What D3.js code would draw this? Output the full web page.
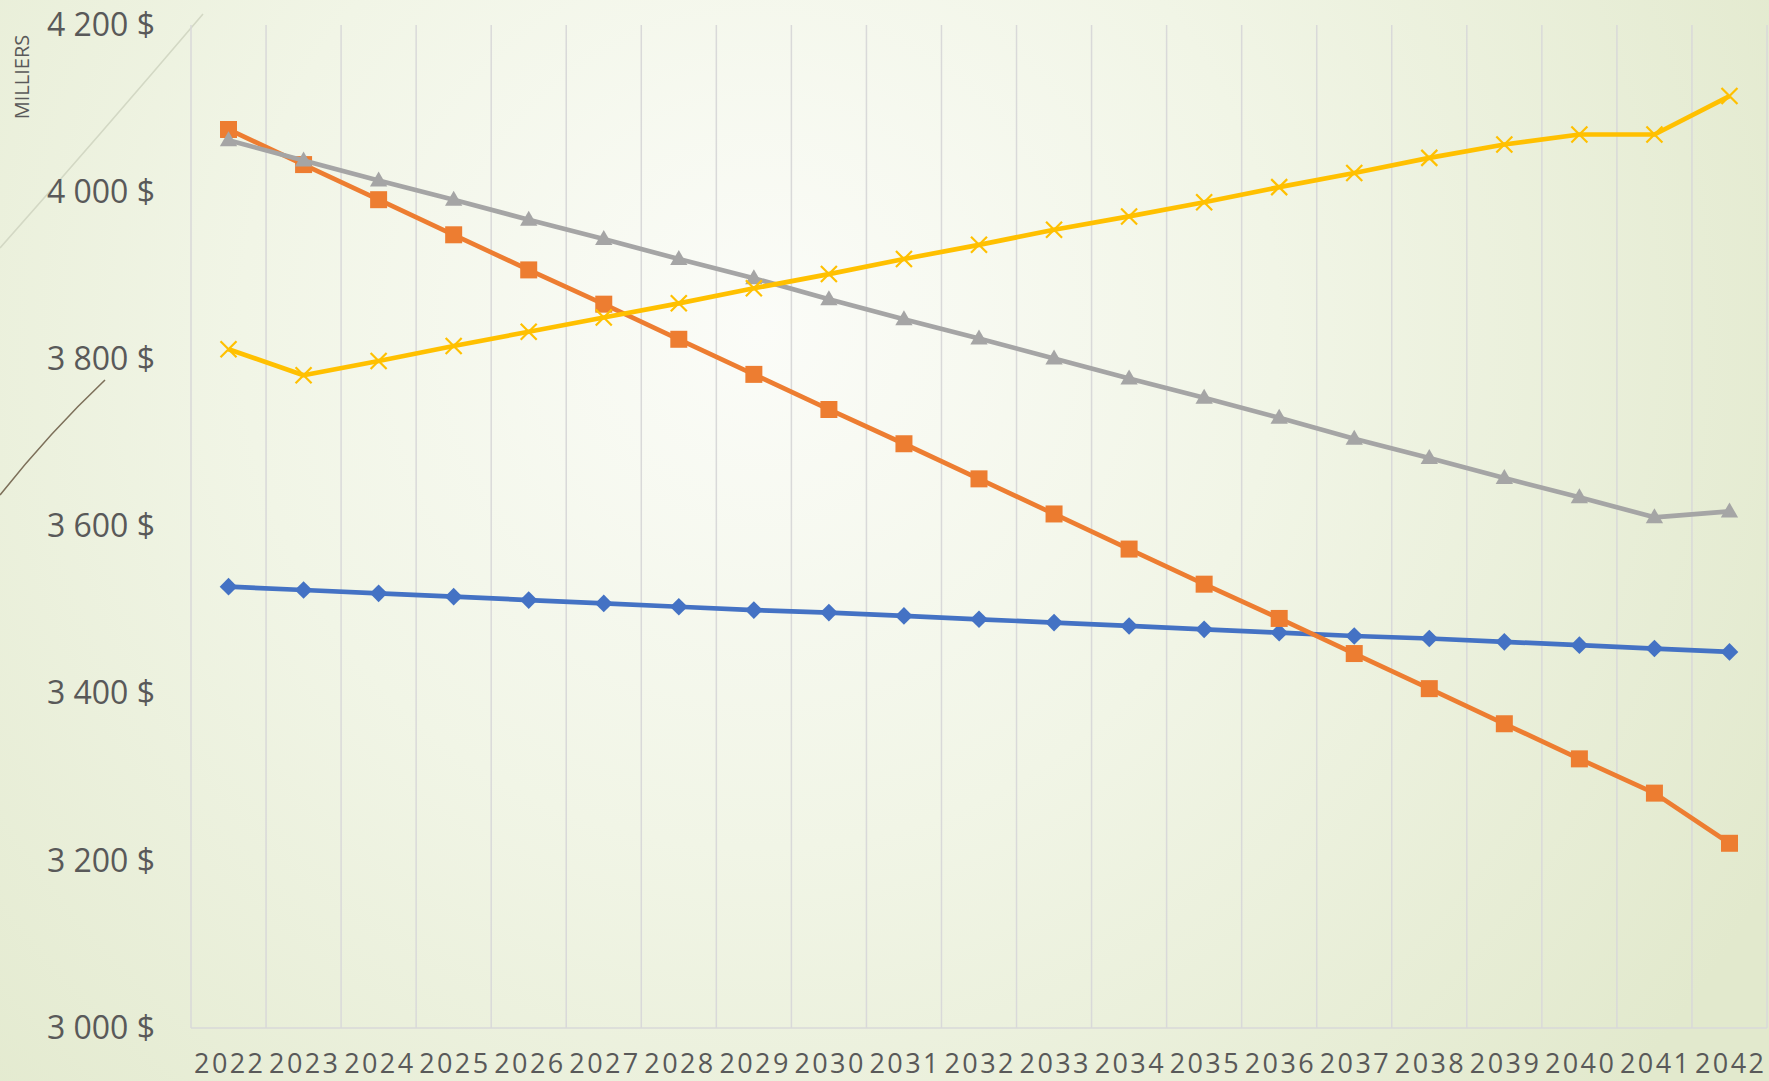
<!DOCTYPE html>
<html lang="fr">
<head>
<meta charset="utf-8">
<title>Projection (milliers $)</title>
<script src="https://cdn.jsdelivr.net/npm/d3@7"></script>
<style>
  html, body { margin: 0; padding: 0; background: #e5ebd4; }
  svg { display: block; }
</style>
</head>
<body>
<svg id="chart" width="1769" height="1081"></svg>
<script>
// Années et séries (en milliers de dollars)
const years = d3.range(2022, 2043).map(String);

const serieBleue = [3528, 3524, 3520, 3516, 3512, 3508, 3504, 3500, 3497, 3493, 3489,
                    3485, 3481, 3477, 3473, 3469, 3466, 3462, 3458, 3454, 3450];
const serieOrange = [4075, 4033, 3991, 3949, 3907, 3866, 3824, 3782, 3740, 3699, 3657,
                     3615, 3573, 3531, 3490, 3448, 3406, 3364, 3322, 3281, 3221];
const serieGrise = [4062, 4038, 4014, 3991, 3967, 3944, 3920, 3897, 3872, 3848, 3825,
                    3801, 3777, 3754, 3730, 3705, 3682, 3658, 3635, 3611, 3618];
const serieJaune = [3812, 3781, 3798, 3816, 3833, 3850, 3867, 3885, 3902, 3920, 3937,
                    3955, 3971, 3988, 4006, 4023, 4041, 4057, 4069, 4069, 4115];

const yTicks = [3000, 3200, 3400, 3600, 3800, 4000, 4200];
const unitLabel = "MILLIERS";

const series = [
  { values: serieBleue,  color: "#4472C4", marker: "diamond" },
  { values: serieOrange, color: "#ED7D31", marker: "square" },
  { values: serieGrise,  color: "#A5A5A5", marker: "triangle" },
  { values: serieJaune,  color: "#FFC000", marker: "cross" }
];

const W = 1769, H = 1081;
const plot = { left: 191, right: 1767, top: 25, bottom: 1028 };

const svg = d3.select("#chart");

// Fond : dégradé clair vers vert pâle
const defs = svg.append("defs");
const bg = defs.append("radialGradient")
  .attr("id", "bg").attr("gradientUnits", "userSpaceOnUse")
  .attr("cx", 760).attr("cy", 330).attr("r", 1150);
bg.append("stop").attr("offset", "0%").attr("stop-color", "#fbfcf8");
bg.append("stop").attr("offset", "45%").attr("stop-color", "#f1f5e6");
bg.append("stop").attr("offset", "100%").attr("stop-color", "#e2e9cd");
svg.append("rect").attr("width", W).attr("height", H).attr("fill", "url(#bg)");

// Traits décoratifs du thème, à gauche
svg.append("path")
  .attr("d", "M0,248 Q100,135 203,14")
  .attr("fill", "none").attr("stroke", "#d3d8c4").attr("stroke-width", 1.6);
svg.append("path")
  .attr("d", "M0,495 Q50,432 105,380")
  .attr("fill", "none").attr("stroke", "#7d705a").attr("stroke-width", 1.6);

// Échelles
const x = d3.scaleBand().domain(years).range([plot.left, plot.right]).padding(0);
const y = d3.scaleLinear().domain([3000, 4200]).range([plot.bottom, plot.top]);

// Quadrillage vertical (limites des catégories)
const bounds = years.map(d => x(d)).concat([plot.right]);
svg.append("g").selectAll("line").data(bounds).join("line")
  .attr("x1", d => d).attr("x2", d => d)
  .attr("y1", plot.top).attr("y2", plot.bottom)
  .attr("stroke", "#d9d9d9").attr("stroke-width", 1.5);

// Ligne d'axe horizontal
svg.append("line")
  .attr("x1", plot.left).attr("x2", plot.right)
  .attr("y1", plot.bottom).attr("y2", plot.bottom)
  .attr("stroke", "#d9d9d9").attr("stroke-width", 1.5);

// Axe des ordonnées
const fr = d3.formatLocale({ decimal: ",", thousands: " ", grouping: [3], currency: ["", " $"] });
const fmt = fr.format("$,.0f");
const yAxis = svg.append("g")
  .attr("transform", `translate(${plot.left},0)`)
  .call(d3.axisLeft(y).tickValues(yTicks).tickFormat(fmt).tickSize(0).tickPadding(36));
yAxis.select(".domain").remove();
yAxis.selectAll("text")
  .attr("font-family", "'Open Sans', 'Noto Sans', sans-serif")
  .attr("font-size", 32).attr("fill", "#595959");

// Axe des abscisses
const xAxis = svg.append("g")
  .attr("transform", `translate(0,${plot.bottom})`)
  .call(d3.axisBottom(x).tickSize(0).tickPadding(26));
xAxis.select(".domain").remove();
xAxis.selectAll("text")
  .attr("font-family", "'Open Sans', 'Noto Sans', sans-serif")
  .attr("font-size", 27).attr("fill", "#595959")
  .attr("letter-spacing", "2.4px")
  .attr("dx", "1.2px");

// Unité
svg.append("text")
  .attr("transform", "translate(29,77) rotate(-90)")
  .attr("text-anchor", "middle")
  .attr("font-family", "'Open Sans', 'Noto Sans', sans-serif")
  .attr("font-size", 20).attr("fill", "#595959")
  .text(unitLabel);

// Séries
const cx = i => x(years[i]) + x.bandwidth() / 2;
const line = d3.line().x((d, i) => cx(i)).y(d => y(d));

const symSquare = d3.symbol().type(d3.symbolSquare).size(17 * 17)();
const symDiamond = d3.symbol().type(d3.symbolSquare).size(12.5 * 12.5)();
const symTriangle = d3.symbol().type(d3.symbolTriangle).size(130)();

series.forEach(s => {
  const g = svg.append("g");
  g.append("path")
    .attr("d", line(s.values))
    .attr("fill", "none")
    .attr("stroke", s.color)
    .attr("stroke-width", 4.7)
    .attr("stroke-linejoin", "round");

  const pts = g.selectAll(".pt").data(s.values).join("g")
    .attr("class", "pt")
    .attr("transform", (d, i) => `translate(${cx(i)},${y(d)})`);

  if (s.marker === "square") {
    pts.append("path").attr("d", symSquare).attr("fill", s.color);
  } else if (s.marker === "diamond") {
    pts.append("path").attr("d", symDiamond).attr("transform", "rotate(45)").attr("fill", s.color);
  } else if (s.marker === "triangle") {
    pts.append("path").attr("d", symTriangle).attr("transform", "translate(0,1)").attr("fill", s.color);
  } else {
    pts.append("path")
      .attr("d", "M-8,-8L8,8M-8,8L8,-8")
      .attr("stroke", s.color).attr("stroke-width", 2.2).attr("fill", "none");
  }
});
</script>
</body>
</html>
